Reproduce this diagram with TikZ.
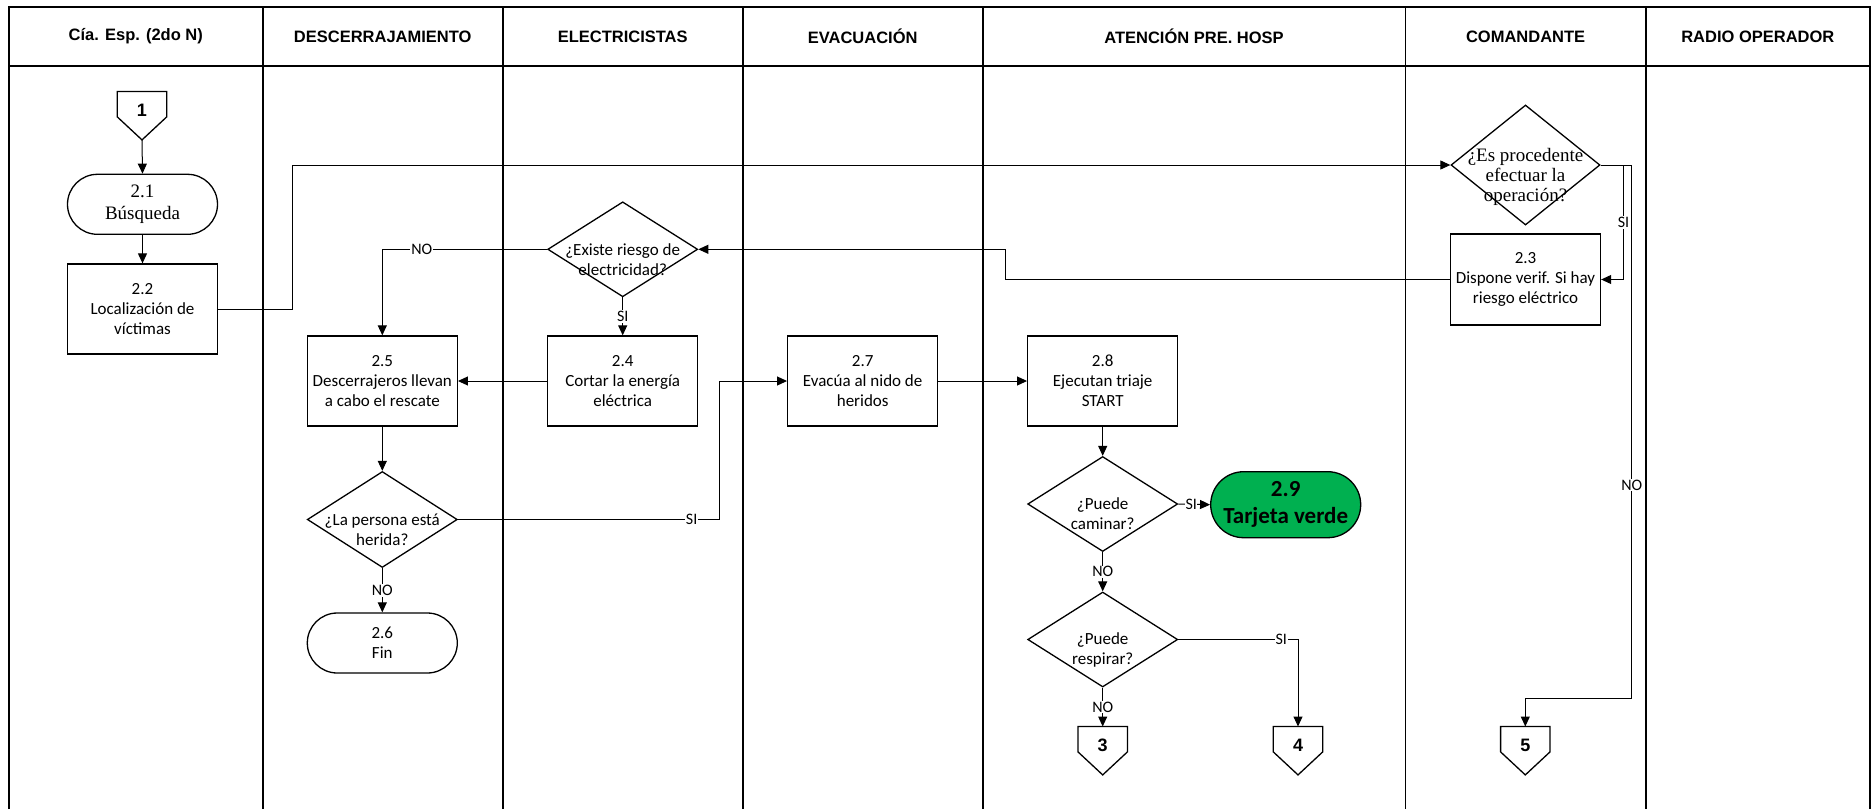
\documentclass[tikz,border=0pt]{standalone}
\usepackage{fontspec}
\setmainfont{Carlito}
\newfontfamily\arialf{Liberation Sans}
\newfontfamily\timesf{Liberation Serif}
\usetikzlibrary{arrows.meta,shapes.geometric}
\definecolor{tgreen}{RGB}{0,176,80}
\begin{document}
\begin{tikzpicture}[x=1pt,y=-1pt,
 lane/.style={line width=1.8pt},
 hdr/.style={font=\arialf\bfseries\fontsize{16.5}{19}\selectfont},
 body/.style={font=\fontsize{17}{20}\selectfont, align=center},
 proc/.style={draw, line width=1.3pt, rectangle, minimum width=150pt, minimum height=90pt, inner sep=1pt, body},
 term/.style={draw, line width=1.3pt, rectangle, rounded corners=30pt, minimum width=150pt, minimum height=60pt, inner sep=1pt},
 dec/.style={draw, line width=1.3pt, diamond, minimum width=150pt, minimum height=95pt, inner sep=0pt},
 dtext/.style={font=\fontsize{17}{20}\selectfont, align=center, yshift=-10pt},
 conn/.style={rectangle, minimum width=49pt, minimum height=25pt, inner sep=0pt},
 ctext/.style={font=\arialf\bfseries\fontsize{18}{20}\selectfont, yshift=-6pt},
 flow/.style={line width=1pt, -{Triangle[length=10pt,width=9pt]}},
 lbl/.style={fill=white, inner sep=1pt, font=\fontsize{16}{18}\selectfont}
]
\useasboundingbox (0,0) rectangle (1872,809);
% swimlanes
\draw[lane, line join=miter] (9,809) -- (9,7) -- (1870,7) -- (1870,809);
\draw[lane] (9,66) -- (1870,66);
\foreach \x in {262.7,502.7,742.7,982.7,1405.5,1645.7} \draw[lane] (\x,7) -- (\x,809);
\node[hdr] (h1) at (135.8,36.5) {Cía. Esp. (2do N)};
\node[hdr] (h2) at (382.7,36.5) {DESCERRAJAMIENTO};
\node[hdr] (h3) at (622.7,36.5) {ELECTRICISTAS};
\node[hdr] (h4) at (862.7,36.5) {EVACUACIÓN};
\node[hdr] (h5) at (1194,36.5) {ATENCIÓN PRE. HOSP};
\node[hdr] (h6) at (1525.6,36.5) {COMANDANTE};
\node[hdr] (h7) at (1757.8,36.5) {RADIO OPERADOR};
% nodes
\node[conn, label={[ctext]center:1}] (c1) at (142,104.2) {};
\node[term, font=\timesf\fontsize{19}{22}\selectfont, align=center] (t21) at (142.5,204.3) {2.1\\Búsqueda};
\node[proc] (p22) at (142.5,309) {2.2\\Localización de\\víctimas};
\node[dec, minimum width=149pt, minimum height=120pt, label={[dtext, font=\timesf\fontsize{19}{20}\selectfont, yshift=-2pt]center:{¿Es procedente\\efectuar la\\operación?}}] (dEs) at (1525.5,165) {};
\node[proc, minimum height=91pt] (p23) at (1525.5,279.5) {2.3\\Dispone verif. Si hay\\riesgo eléctrico};
\node[dec, label={[dtext]center:{¿Existe riesgo de\\electricidad?}}] (dEx) at (622.7,249.3) {};
\node[proc] (p24) at (622.7,381) {2.4\\Cortar la energía\\eléctrica};
\node[proc] (p25) at (382.3,381) {2.5\\Descerrajeros llevan\\a cabo el rescate};
\node[dec, minimum height=96pt, label={[dtext]center:{¿La persona está\\herida?}}] (dLa) at (382.3,519.5) {};
\node[term, body] (t26) at (382.3,643) {2.6\\Fin};
\node[proc] (p27) at (862.7,381) {2.7\\Evacúa al nido de\\heridos};
\node[proc] (p28) at (1102.7,381) {2.8\\Ejecutan triaje\\START};
\node[dec, label={[dtext]center:{¿Puede\\caminar?}}] (dCa) at (1102.7,504) {};
\node[term, fill=tgreen, rounded corners=33pt, minimum height=66pt, font=\bfseries\fontsize{23}{27}\selectfont, align=center] (t29) at (1285.7,504.7) {2.9\\Tarjeta verde};
\node[dec, label={[dtext]center:{¿Puede\\respirar?}}] (dRe) at (1102.7,639.5) {};
\node[conn, label={[ctext]center:3}] (c3) at (1102.7,739.2) {};
\node[conn, label={[ctext]center:4}] (c4) at (1298,739.2) {};
\node[conn, label={[ctext]center:5}] (c5) at (1525.3,739.2) {};
\foreach \n in {c1,c3,c4,c5}
  \draw[line width=1.3pt, line join=miter] (\n.north west) -- (\n.north east) -- (\n.south east) -- ([yshift=-23pt]\n.south) -- (\n.south west) -- cycle;
\coordinate (c1tip) at ([yshift=-23pt]c1.south);
% connectors
\draw[flow] (c1tip) -- (t21.north);
\draw[flow] (t21.south) -- (p22.north);
\coordinate (j1) at (292.5,165);
\draw[flow] (p22.east) -| (j1) -- (dEs.west);
\draw[flow] (dEs.east) -- ++(22.8,0) |- node[lbl,pos=0.25]{SI} (p23.east);
\coordinate (j2) at (1631.7,698.3);
\draw[flow] (dEs.east) -| node[lbl,pos=0.8]{NO} (j2) -| (c5.north);
\coordinate (j3) at (1005.5,249.3);
\draw[flow] (p23.west) -| (j3) -- (dEx.east);
\draw[flow] (dEx.west) -| node[lbl,pos=0.38]{NO} (p25.north);
\draw[flow] (dEx.south) -- node[lbl]{SI} (p24.north);
\draw[flow] (p24.west) -- (p25.east);
\draw[flow] (p25.south) -- (dLa.north);
\draw[flow] (dLa.south) -- node[lbl]{NO} (t26.north);
\coordinate (j4) at (719.3,381);
\draw[flow] (dLa.east) -| node[lbl,pos=0.447]{SI} (j4) -- (p27.west);
\draw[flow] (p27.east) -- (p28.west);
\draw[flow] (p28.south) -- (dCa.north);
\draw[flow] (dCa.east) -- node[lbl, inner xsep=0.5pt, xshift=-3pt]{SI} (t29.west);
\draw[flow] (dCa.south) -- node[lbl]{NO} (dRe.north);
\draw[flow] (dRe.south) -- node[lbl]{NO} (c3.north);
\draw[flow] (dRe.east) -| node[lbl,pos=0.43]{SI} (c4.north);
\end{tikzpicture}
\end{document}
